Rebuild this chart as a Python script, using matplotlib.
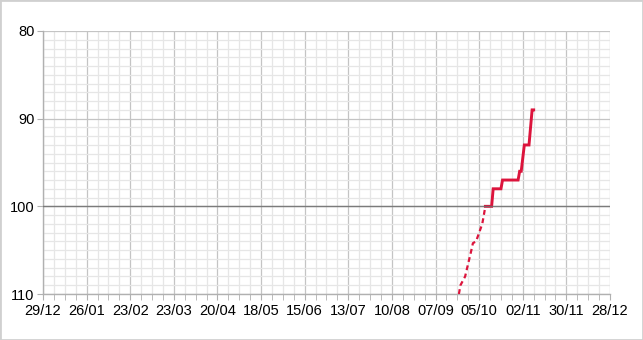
import matplotlib
matplotlib.use("Agg")
import matplotlib.pyplot as plt
import matplotlib.dates as mdates
import matplotlib.ticker as mticker
import pandas as pd
from matplotlib.patches import Rectangle

plt.rcParams['font.family'] = ['Liberation Sans', 'DejaVu Sans']

start = pd.Timestamp("2014-12-29")
end = pd.Timestamp("2015-12-28")

# dotted (projected) part: day offsets from 29/12 and values
dotted_days = [267, 268, 271, 275, 276, 278, 282, 284]
dotted_vals = [110, 109, 108, 105, 104.2, 104, 102, 100]

# solid part
solid_days = [284, 288, 289, 294, 295, 305, 306, 307, 309, 312, 314, 315]
solid_vals = [100, 100, 98, 98, 97, 97, 96, 96, 93, 93, 89, 89]

dotted_dates = [start + pd.Timedelta(days=d) for d in dotted_days]
solid_dates = [start + pd.Timedelta(days=d) for d in solid_days]

fig = plt.figure(figsize=(6.43, 3.40), dpi=100)
ax = fig.add_axes([43/643, 46/340, 567/643, 263/340])

color = '#dc143c'
ax.plot(dotted_dates, dotted_vals, color=color, lw=1.6, ls=(0, (2.2, 1.6)), zorder=3)
ax.plot(solid_dates, solid_vals, color=color, lw=2.1, zorder=4, solid_joinstyle='miter')

ax.set_xlim(start, end)
ax.set_ylim(110, 80)

ax.xaxis.set_major_locator(mticker.FixedLocator(
    mdates.date2num(pd.date_range(start, end, freq='28D'))))
ax.xaxis.set_minor_locator(mticker.FixedLocator(
    mdates.date2num(pd.date_range(start, end, freq='7D'))))
ax.xaxis.set_major_formatter(mdates.DateFormatter('%d/%m'))

ax.yaxis.set_major_locator(mticker.MultipleLocator(10))
ax.yaxis.set_minor_locator(mticker.MultipleLocator(1))

ax.grid(which='major', color='#c4c4c4', lw=0.9, zorder=0)
ax.grid(which='minor', color='#e6e6e6', lw=0.9, zorder=0)
ax.set_axisbelow(True)
ax.axhline(100, color='#6e6e6e', lw=1.0, zorder=5, alpha=0.85)

for s in ['top', 'right']:
    ax.spines[s].set_visible(False)
for s in ['left', 'bottom']:
    ax.spines[s].set_color('#b0b0b0')
    ax.spines[s].set_linewidth(1.0)

ax.tick_params(axis='x', which='both', direction='out', length=4, color='#b0b0b0',
               labelsize=10.5, pad=3, labelcolor='black')
ax.tick_params(axis='y', which='major', direction='out', length=4, color='#b0b0b0',
               labelsize=10.5, pad=2, labelcolor='black')
ax.tick_params(axis='y', which='minor', length=0)

fig.patches.append(Rectangle((0, 0), 1, 1, transform=fig.transFigure, fill=False,
                             edgecolor='#d0d0d0', lw=2.0))

fig.savefig('out.png', dpi=100)
